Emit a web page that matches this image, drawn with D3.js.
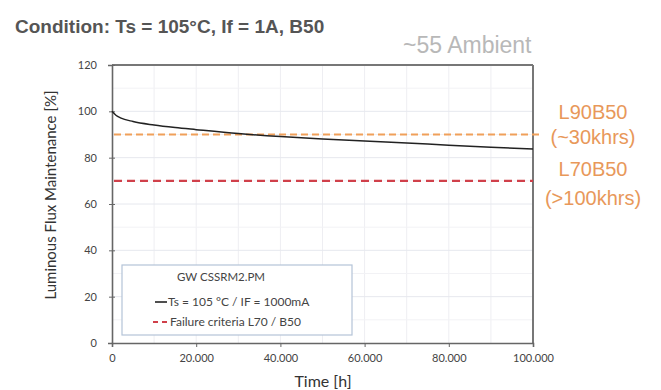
<!DOCTYPE html>
<html><head><meta charset="utf-8">
<script src="https://cdn.jsdelivr.net/npm/d3@7"></script>
<style>body{margin:0;background:#fff;} svg{display:block;}</style>
</head><body>
<script>
const hours = [0, 1000, 2000, 5000, 10000, 15000, 20000, 30000, 40000, 50000, 60000, 70000, 80000, 90000, 100000];
const flux  = [100, 98.2, 97.2, 95.6, 94.1, 93.0, 92.1, 90.4, 89.1, 88.1, 87.2, 86.3, 85.4, 84.5, 83.7];
const criteria = [90, 70];
const criteriaLabels = [["L90B50", "(~30khrs)"], ["L70B50", "(>100khrs)"]];
const xTicks = [0, 20000, 40000, 60000, 80000, 100000];
const yTicks = [0, 20, 40, 60, 80, 100, 120];
const legendLines = ["GW CSSRM2.PM", "Ts  = 105 \u00B0C / IF = 1000mA", "Failure criteria  L70 / B50"];

const W = 661, H = 390;
const svg = d3.select("body").append("svg").attr("width", W).attr("height", H);
const m = {l: 112, r: 533, t: 65, b: 343};
const x = d3.scaleLinear().domain([0, 100000]).range([m.l, m.r]);
const y = d3.scaleLinear().domain([0, 120]).range([m.b, m.t]);
const fmt = v => v === 0 ? "0" : d3.format(",")(v).replace(/,/g, ".");
const lf = "Lato, 'Liberation Sans', sans-serif";
const af = "'Liberation Sans', Arial, sans-serif";

// grid
svg.append("g").selectAll("line").data(d3.range(10000, 100000, 10000)).join("line")
  .attr("x1", d => x(d)).attr("x2", d => x(d)).attr("y1", m.t).attr("y2", m.b)
  .attr("stroke", "#eeeef2").attr("stroke-width", 1);
svg.append("g").selectAll("line").data(d3.range(10, 120, 10)).join("line")
  .attr("x1", m.l).attr("x2", m.r).attr("y1", d => y(d)).attr("y2", d => y(d))
  .attr("stroke", d => d % 20 === 0 ? "#e6e8ee" : "#f2f2f5").attr("stroke-width", 1);

// frame
svg.append("line").attr("x1", m.l).attr("x2", m.r).attr("y1", m.t).attr("y2", m.t).attr("stroke", "#777").attr("stroke-width", 2);
svg.append("line").attr("x1", m.r).attr("x2", m.r).attr("y1", m.t).attr("y2", m.b).attr("stroke", "#777").attr("stroke-width", 2);

// axes
const xa = svg.append("g").attr("transform", `translate(0,${m.b})`)
  .call(d3.axisBottom(x).tickValues(xTicks).tickFormat(fmt).tickSize(4).tickPadding(7));
const ya = svg.append("g").attr("transform", `translate(${m.l},0)`)
  .call(d3.axisLeft(y).tickValues(yTicks).tickSize(4).tickPadding(11));
[xa, ya].forEach(a => {
  a.select(".domain").attr("stroke", "#666").attr("stroke-width", 1.6);
  a.selectAll(".tick line").attr("stroke", "#666");
  a.selectAll("text").attr("fill", "#444").attr("font-family", lf).attr("font-size", 11);
});
ya.selectAll(".tick line").attr("x2", 3).attr("x1", -3);

// criteria lines
const critColors = ["#f0a05a", "#d0404a"];
criteria.forEach((c, i) => {
  svg.append("line").attr("x1", m.l + 2).attr("x2", i === 0 ? 543 : m.r).attr("y1", y(c)).attr("y2", y(c))
    .attr("stroke", critColors[i]).attr("stroke-width", i === 0 ? 2 : 2.4).attr("stroke-dasharray", i === 0 ? "7,4" : "8,5");
});

// curve
svg.append("path").datum(hours.map((h, i) => [h, flux[i]]))
  .attr("fill", "none").attr("stroke", "#222").attr("stroke-width", 1.5)
  .attr("d", d3.line().x(d => x(d[0])).y(d => y(d[1])).curve(d3.curveMonotoneX));

// criteria labels
const lab = svg.append("g").attr("font-family", af).attr("font-size", 20).attr("fill", "#e8985a").attr("text-anchor", "middle");
const labOffsets = [[-16, 9], [-5, 24]];
criteriaLabels.forEach((pair, i) => {
  const base = y(criteria[i]);
  lab.append("text").attr("x", 593).attr("y", base + labOffsets[i][0]).text(pair[0]);
  lab.append("text").attr("x", 593).attr("y", base + labOffsets[i][1]).text(pair[1]);
});

// legend
const lg = svg.append("g");
lg.append("rect").attr("x", 122).attr("y", 265).attr("width", 230).attr("height", 70)
  .attr("fill", "#fff").attr("stroke", "#b4c4d8").attr("stroke-width", 1.2);
lg.append("text").attr("x", 221).attr("y", 281).attr("text-anchor", "middle").attr("font-family", lf).attr("font-size", 11.5).attr("fill", "#444").text(legendLines[0]);
lg.append("line").attr("x1", 155).attr("x2", 167).attr("y1", 302).attr("y2", 302).attr("stroke", "#222").attr("stroke-width", 1.6);
lg.append("text").attr("x", 168).attr("y", 306).attr("font-family", lf).attr("font-size", 12).attr("fill", "#444").text(legendLines[1]);
lg.append("line").attr("x1", 153).attr("x2", 168).attr("y1", 322).attr("y2", 322).attr("stroke", "#d0404a").attr("stroke-width", 1.8).attr("stroke-dasharray", "5,4");
lg.append("text").attr("x", 170).attr("y", 326).attr("font-family", lf).attr("font-size", 12).attr("fill", "#444").text(legendLines[2]);

// titles
svg.append("text").attr("x", 15).attr("y", 33).attr("font-family", af).attr("font-weight", "bold").attr("font-size", 19).attr("fill", "#555").text("Condition: Ts = 105\u00B0C, If = 1A, B50");
svg.append("text").attr("x", 403).attr("y", 53).attr("font-family", af).attr("font-size", 23).attr("fill", "#b8b8b8").text("~55 Ambient");
svg.append("text").attr("transform", "translate(56,195) rotate(-90)").attr("text-anchor", "middle").attr("font-family", lf).attr("font-size", 15).attr("fill", "#333").text("Luminous Flux Maintenance [%]");
svg.append("text").attr("x", 323).attr("y", 387).attr("text-anchor", "middle").attr("font-family", lf).attr("font-size", 16).attr("fill", "#333").text("Time  [h]");
</script>
</body></html>
